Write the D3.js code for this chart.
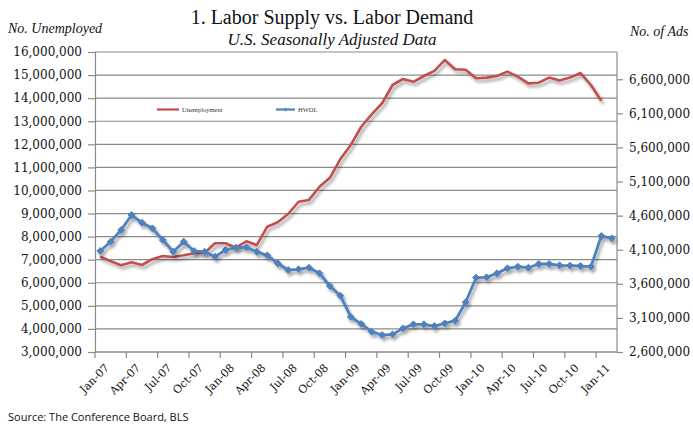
<!DOCTYPE html>
<html><head><meta charset="utf-8">
<script src="https://cdn.jsdelivr.net/npm/d3@7"></script>
<style>body{margin:0;background:#fff}svg{display:block}</style>
</head><body>
<svg id="c" width="693" height="427"></svg>
<script>
const months = ["Jan-07","Feb-07","Mar-07","Apr-07","May-07","Jun-07","Jul-07","Aug-07","Sep-07","Oct-07","Nov-07","Dec-07",
"Jan-08","Feb-08","Mar-08","Apr-08","May-08","Jun-08","Jul-08","Aug-08","Sep-08","Oct-08","Nov-08","Dec-08",
"Jan-09","Feb-09","Mar-09","Apr-09","May-09","Jun-09","Jul-09","Aug-09","Sep-09","Oct-09","Nov-09","Dec-09",
"Jan-10","Feb-10","Mar-10","Apr-10","May-10","Jun-10","Jul-10","Aug-10","Sep-10","Oct-10","Nov-10","Dec-10",
"Jan-11","Feb-11"];
const unemployment = [7130000,6940000,6760000,6890000,6770000,7020000,7160000,7120000,7190000,7280000,7300000,7710000,
7710000,7520000,7800000,7640000,8430000,8620000,8980000,9510000,9590000,10160000,10550000,11360000,
11970000,12760000,13300000,13780000,14570000,14830000,14710000,14960000,15180000,15650000,15250000,15230000,
14860000,14890000,14960000,15150000,14930000,14640000,14670000,14890000,14770000,14890000,15090000,14570000,
13890000];
const hwol = [4081000,4218000,4389000,4609000,4497000,4414000,4243000,4071000,4218000,4081000,4071000,3998000,
4096000,4130000,4135000,4071000,4018000,3901000,3803000,3813000,3836000,3754000,3568000,3426000,
3115000,3011000,2898000,2849000,2859000,2947000,3006000,3006000,2981000,3020000,3059000,3329000,
3690000,3695000,3754000,3827000,3851000,3836000,3891000,3891000,3871000,3866000,3861000,3851000,
4301000,4267000];
const leftTicks = [3000000,4000000,5000000,6000000,7000000,8000000,9000000,10000000,11000000,12000000,13000000,14000000,15000000,16000000];
const rightTicks = [2600000,3100000,3600000,4100000,4600000,5100000,5600000,6100000,6600000];
const xTickLabels = ["Jan-07","Apr-07","Jul-07","Oct-07","Jan-08","Apr-08","Jul-08","Oct-08","Jan-09","Apr-09","Jul-09","Oct-09","Jan-10","Apr-10","Jul-10","Oct-10","Jan-11"];
const seriesNames = ["Unemployment","HWOL"];

const svg = d3.select("#c");
const L = 95, R = 617, T = 52, B = 352;
const x = d3.scaleBand().domain(months).range([L, R]).padding(0);
const cx = d => x(d) + x.bandwidth()/2;
const yL = d3.scaleLinear().domain([3000000,16000000]).range([B, T]);
const yR = d3.scaleLinear().domain([2600000,7000000]).range([B, T]);
const fmt = d3.format(",");
const grid = "#8a8a8a";
const serif = "'DejaVu Serif', serif";

const defs = svg.append("defs");
const f = defs.append("filter").attr("id","sh").attr("x","-10%").attr("y","-10%").attr("width","120%").attr("height","130%");
f.append("feDropShadow").attr("dx",2).attr("dy",3).attr("stdDeviation",1.6).attr("flood-color","#000").attr("flood-opacity",0.35);

// gridlines
svg.append("g").selectAll("line").data(leftTicks).join("line")
  .attr("x1", L).attr("x2", R).attr("y1", d => yL(d)).attr("y2", d => yL(d))
  .attr("stroke", grid).attr("stroke-width", 1.2);

// left axis
const gl = svg.append("g").attr("transform",`translate(${L},0)`)
  .call(d3.axisLeft(yL).tickValues(leftTicks).tickFormat(fmt).tickSize(7).tickPadding(6));
gl.select(".domain").attr("stroke", grid).attr("stroke-width",1.2);
gl.selectAll(".tick line").attr("stroke", grid).attr("stroke-width",1.2);
gl.selectAll("text").attr("font-family", serif).attr("font-size", 12).attr("fill","#111");

// right axis
const gr = svg.append("g").attr("transform",`translate(${R},0)`)
  .call(d3.axisRight(yR).tickValues(rightTicks).tickFormat(fmt).tickSize(6).tickPadding(6));
gr.select(".domain").attr("stroke", grid).attr("stroke-width",1.2).attr("d",`M0,${T}V${B}`);
gr.selectAll(".tick line").attr("stroke", grid).attr("stroke-width",1.2);
gr.selectAll("text").attr("font-family", serif).attr("font-size", 12).attr("fill","#111");

// bottom axis
const xb = svg.append("g").attr("transform",`translate(0,${B})`);
xb.append("line").attr("x1",L).attr("x2",R).attr("stroke",grid).attr("stroke-width",1.2);
xb.selectAll("line.t").data(xTickLabels).join("line").attr("class","t")
  .attr("x1", d => x(d)).attr("x2", d => x(d)).attr("y1",0).attr("y2",6)
  .attr("stroke",grid).attr("stroke-width",1.2);
xb.selectAll("text").data(xTickLabels).join("text")
  .attr("transform", d => `translate(${cx(d)+4},11) rotate(-45)`)
  .attr("text-anchor","end").attr("dy","0.7em")
  .attr("font-family", serif).attr("font-size", 11).attr("fill","#111")
  .text(d => d);

// lines
const lineU = d3.line().x((d,i) => cx(months[i])).y(d => yL(d));
const lineH = d3.line().x((d,i) => cx(months[i])).y(d => yR(d));
svg.append("path").datum(unemployment).attr("d", lineU).attr("fill","none")
  .attr("stroke","#C0504D").attr("stroke-width",2.6).attr("stroke-linejoin","round").attr("filter","url(#sh)");
const gh = svg.append("g").attr("filter","url(#sh)");
gh.append("path").datum(hwol).attr("d", lineH).attr("fill","none")
  .attr("stroke","#4F81BD").attr("stroke-width",2.8).attr("stroke-linejoin","round");
gh.selectAll("path.m").data(hwol).join("path").attr("class","m")
  .attr("d", d3.symbol(d3.symbolDiamond2, 30))
  .attr("transform",(d,i)=>`translate(${cx(months[i])},${yR(d)})`)
  .attr("fill","#4F81BD").attr("stroke","#4F81BD").attr("stroke-width",1);

// legend
const lg = svg.append("g");
lg.append("line").attr("x1",157).attr("x2",179).attr("y1",109.5).attr("y2",109.5).attr("stroke","#C0504D").attr("stroke-width",2.2);
lg.append("text").attr("x",182).attr("y",109.5).attr("dy","0.35em").attr("font-family","'Liberation Serif', serif").attr("font-size",6.5).attr("fill","#333").text(seriesNames[0]);
lg.append("line").attr("x1",276).attr("x2",295).attr("y1",109.5).attr("y2",109.5).attr("stroke","#4F81BD").attr("stroke-width",2.2);
lg.append("path").attr("d", d3.symbol(d3.symbolDiamond2, 10)).attr("transform","translate(285.5,109.5)").attr("fill","#4F81BD");
lg.append("text").attr("x",298).attr("y",109.5).attr("dy","0.35em").attr("font-family","'Liberation Serif', serif").attr("font-size",6.5).attr("fill","#333").text(seriesNames[1]);

// titles
svg.append("text").attr("x",332).attr("y",24).attr("text-anchor","middle").attr("font-family","'Liberation Serif', serif").attr("font-size",20).attr("fill","#111").text("1. Labor Supply vs. Labor Demand");
svg.append("text").attr("x",332).attr("y",45).attr("text-anchor","middle").attr("font-family","'Liberation Serif', serif").attr("font-style","italic").attr("font-size",17).attr("fill","#111").text("U.S. Seasonally Adjusted Data");
svg.append("text").attr("x",8).attr("y",33).attr("font-family","'Liberation Serif', serif").attr("font-style","italic").attr("font-size",14).attr("fill","#111").text("No. Unemployed");
svg.append("text").attr("x",630).attr("y",36).attr("font-family","'Liberation Serif', serif").attr("font-style","italic").attr("font-size",14).attr("fill","#111").text("No. of Ads");
svg.append("text").attr("x",8).attr("y",421).attr("font-family","'Open Sans', sans-serif").attr("font-size",11).attr("fill","#111").text("Source: The Conference Board, BLS");
</script>
</body></html>
